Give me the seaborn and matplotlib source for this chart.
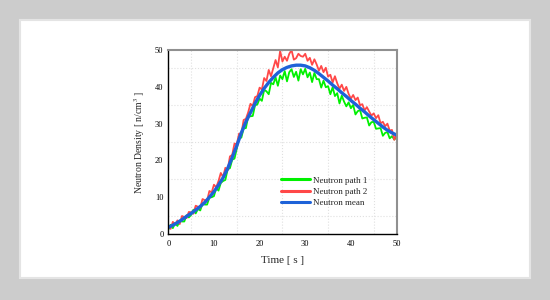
import numpy as np
import pandas as pd
import matplotlib
matplotlib.use("Agg")
import matplotlib.pyplot as plt
import seaborn as sns
from matplotlib.patches import Rectangle
from matplotlib.ticker import MultipleLocator

# time grid (s)
t_mean = list(range(0, 51))
t_path = [i * 0.5 for i in range(101)]

# mean curve read every 1 s
neutron_mean = [1.8, 2.4, 3.1, 3.9, 4.8, 5.6, 6.5, 7.5, 8.6, 10.0,
                11.5, 13.3, 15.3, 17.8, 20.8, 24.0, 27.5, 30.5, 33.0, 35.5,
                37.7, 39.6, 41.2, 42.6, 43.8, 44.7, 45.3, 45.7, 45.9, 45.9,
                45.7, 45.2, 44.5, 43.6, 42.6, 41.6, 40.5, 39.5, 38.4, 37.4,
                36.3, 35.3, 34.2, 33.2, 32.1, 31.1, 30.1, 29.1, 28.2, 27.5,
                26.9]

# noisy paths read every 0.5 s
neutron_path1 = [1.2, 2.5, 1.6, 3.0, 2.2, 3.6, 3.4, 3.4, 5.1, 4.5,
                 5.2, 6.6, 5.6, 6.8, 6.4, 8.3, 8.0, 8.0, 9.9, 10.0,
                 10.3, 12.5, 11.8, 13.9, 14.4, 14.7, 17.6, 17.9, 20.2, 20.5,
                 23.2, 26.3, 26.2, 28.7, 28.8, 32.0, 32.0, 32.1, 35.0, 35.2,
                 36.8, 36.2, 39.2, 38.8, 38.0, 41.1, 40.7, 42.6, 40.3, 43.1,
                 42.1, 44.3, 41.5, 44.0, 44.8, 42.7, 44.1, 41.7, 44.8, 43.4,
                 44.9, 42.6, 43.9, 41.3, 43.8, 42.1, 42.1, 39.8, 41.7, 39.9,
                 40.2, 38.0, 39.9, 37.5, 38.3, 35.5, 37.6, 36.0, 34.7, 35.8,
                 34.2, 35.1, 32.5, 33.4, 33.7, 31.4, 31.6, 31.7, 29.5, 30.4,
                 30.5, 28.6, 28.7, 28.8, 26.7, 27.5, 27.7, 26.0, 26.6, 25.7,
                 26.2]

neutron_path2 = [2.3, 1.4, 3.3, 2.5, 3.7, 2.7, 4.9, 4.6, 4.3, 6.0,
                 5.9, 5.5, 7.7, 7.4, 7.2, 9.5, 9.2, 9.1, 11.7, 11.3,
                 13.4, 12.7, 14.4, 16.6, 15.5, 18.0, 17.4, 21.1, 21.5, 24.6,
                 24.4, 27.3, 27.2, 31.0, 31.3, 33.1, 35.4, 34.8, 37.2, 37.5,
                 39.8, 39.3, 42.4, 41.6, 44.6, 42.9, 45.1, 47.3, 45.3, 49.8,
                 46.9, 48.2, 47.1, 49.0, 50.0, 47.4, 47.8, 49.0, 48.4, 48.2,
                 49.0, 47.1, 47.9, 46.0, 47.5, 46.1, 44.4, 45.7, 44.0, 45.2,
                 42.8, 43.3, 41.2, 42.9, 41.0, 39.5, 40.6, 38.9, 40.0, 38.1,
                 36.8, 37.8, 36.4, 37.1, 35.0, 35.3, 33.6, 34.5, 33.3, 32.2,
                 32.8, 31.5, 32.3, 30.1, 30.5, 29.3, 30.0, 28.1, 28.3, 25.6,
                 27.3]

labels = ["Neutron path 1", "Neutron path 2", "Neutron mean"]
colors = ["#00f000", "#ff4848", "#1e62d8"]

paths = pd.DataFrame({"Time": t_path, labels[0]: neutron_path1, labels[1]: neutron_path2})
mean_df = pd.DataFrame({"Time": t_mean, labels[2]: neutron_mean})

sns.set_style("white")
plt.rcParams["font.family"] = ["Liberation Serif", "DejaVu Serif"]
plt.rcParams["mathtext.fontset"] = "stix"

fig = plt.figure(figsize=(5.5, 3.0), dpi=100)
fig.patch.set_facecolor("#cccccc")
fig.patches.append(Rectangle((20 / 550, 22 / 300), 510 / 550, 258 / 300,
                             transform=fig.transFigure, facecolor="white",
                             edgecolor="#e4e4e4", linewidth=1.5, zorder=-10))

ax = fig.add_axes([0.306, 0.22, 0.415, 0.613])
ax.set_facecolor("white")

sns.lineplot(data=paths, x="Time", y=labels[0], ax=ax, color=colors[0], lw=1.3, label=labels[0])
sns.lineplot(data=paths, x="Time", y=labels[1], ax=ax, color=colors[1], lw=1.3, label=labels[1])
sns.lineplot(data=mean_df, x="Time", y=labels[2], ax=ax, color=colors[2], lw=2.4, label=labels[2])

ax.set_xlim(0, 50)
ax.set_ylim(0, 50)
ax.xaxis.set_major_locator(MultipleLocator(10))
ax.yaxis.set_major_locator(MultipleLocator(10))
ax.xaxis.set_minor_locator(MultipleLocator(5))
ax.yaxis.set_minor_locator(MultipleLocator(5))
ax.grid(which="major", visible=False)
ax.grid(which="minor", visible=True, color="#e0e0e0", linestyle=":", linewidth=0.8)
ax.set_axisbelow(True)
ax.tick_params(which="both", direction="in", labelsize=6, colors="black", length=3, width=0.8)
ax.tick_params(which="minor", length=2)
ax.tick_params(axis="x", pad=4)
for side in ["left", "bottom"]:
    ax.spines[side].set_color("black")
    ax.spines[side].set_linewidth(1.0)
for side in ["top", "right"]:
    ax.spines[side].set_color("#909090")
    ax.spines[side].set_linewidth(1.5)

ax.set_xlabel("Time [ s ]", fontsize=8, labelpad=6)
ax.set_ylabel("Neutron Density [ n/cm$^3$ ]", fontsize=7, labelpad=6)

leg = ax.legend(loc="lower left", bbox_to_anchor=(0.46, 0.1), frameon=False,
                fontsize=6.5, handlelength=3.2, handletextpad=0.3, labelspacing=0.35)
for line in leg.get_lines():
    line.set_linewidth(2.2)

fig.savefig("out.png", dpi=100, facecolor=fig.get_facecolor())
